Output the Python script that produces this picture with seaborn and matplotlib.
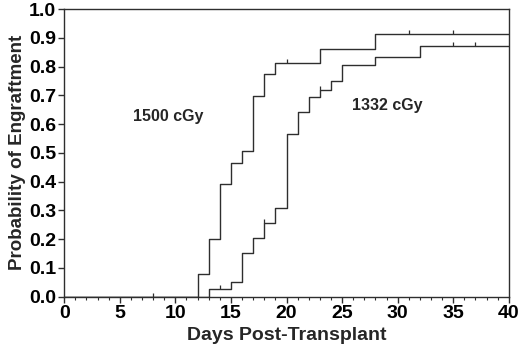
import pandas as pd
import matplotlib
matplotlib.use("Agg")
import matplotlib.pyplot as plt
from matplotlib.ticker import MultipleLocator, FormatStrFormatter
import seaborn as sns

# step points of the two engraftment curves
days_1500 = [0, 12, 13, 14, 15, 16, 17, 18, 19, 23, 28, 40]
prob_1500 = [0, 0.08, 0.20, 0.39, 0.465, 0.505, 0.697, 0.774, 0.811, 0.861, 0.912, 0.912]
days_1332 = [0, 13, 15, 16, 17, 18, 19, 20, 21, 22, 23, 24, 25, 28, 32, 40]
prob_1332 = [0, 0.027, 0.051, 0.152, 0.202, 0.255, 0.307, 0.564, 0.643, 0.695,
             0.72, 0.75, 0.805, 0.834, 0.871, 0.871]

# censored observations
cens_days_1500 = [20, 31, 35]
cens_prob_1500 = [0.811, 0.912, 0.912]
cens_days_1332 = [8, 14, 18, 23, 35, 37]
cens_prob_1332 = [0, 0.027, 0.255, 0.72, 0.871, 0.871]

df1500 = pd.DataFrame({"day": days_1500, "p": prob_1500})
df1332 = pd.DataFrame({"day": days_1332, "p": prob_1332})
cens = pd.DataFrame({"day": cens_days_1500 + cens_days_1332,
                     "p": cens_prob_1500 + cens_prob_1332})

sns.set_style("ticks")
plt.rcParams["font.family"] = ["Liberation Sans", "DejaVu Sans"]

fig = plt.figure(figsize=(5.2, 3.47), dpi=100)
ax = fig.add_axes([0.1235, 0.1455, 0.855, 0.8285])

line_col = "#2e2e2e"
sns.lineplot(data=df1500, x="day", y="p", ax=ax, estimator=None,
             drawstyle="steps-post", color=line_col, linewidth=1.0)
sns.lineplot(data=df1332, x="day", y="p", ax=ax, estimator=None,
             drawstyle="steps-post", color=line_col, linewidth=1.0)
up_tick = [(0, 0), (0, 1)]
sns.scatterplot(data=cens, x="day", y="p", ax=ax, marker=up_tick, s=30,
                color=line_col, linewidth=0.9, edgecolor=line_col)

ax.set_xlim(0, 40)
ax.set_ylim(0, 1.0)
ax.xaxis.set_major_locator(MultipleLocator(5))
ax.xaxis.set_minor_locator(MultipleLocator(1))
ax.yaxis.set_major_locator(MultipleLocator(0.1))
ax.yaxis.set_major_formatter(FormatStrFormatter("%.1f"))

for s in ax.spines.values():
    s.set_color(line_col)
    s.set_linewidth(1.0)

ax.tick_params(axis="both", which="major", length=4, width=1, color=line_col,
               labelsize=14, labelcolor="black", pad=2)
ax.tick_params(axis="x", which="minor", length=2, width=0.8, color=line_col)
for lab in ax.get_xticklabels() + ax.get_yticklabels():
    lab.set_fontweight("bold")

ax.set_xlabel("Days Post-Transplant", fontsize=14, fontweight="bold", labelpad=4)
ax.set_ylabel("Probability of Engraftment", fontsize=13.5, fontweight="bold", labelpad=2)

ax.text(6.2, 0.625, "1500 cGy", fontsize=11.5, fontweight="bold", va="center", ha="left")
ax.text(25.9, 0.663, "1332 cGy", fontsize=11.5, fontweight="bold", va="center", ha="left")

fig.savefig("out.png", dpi=100)
